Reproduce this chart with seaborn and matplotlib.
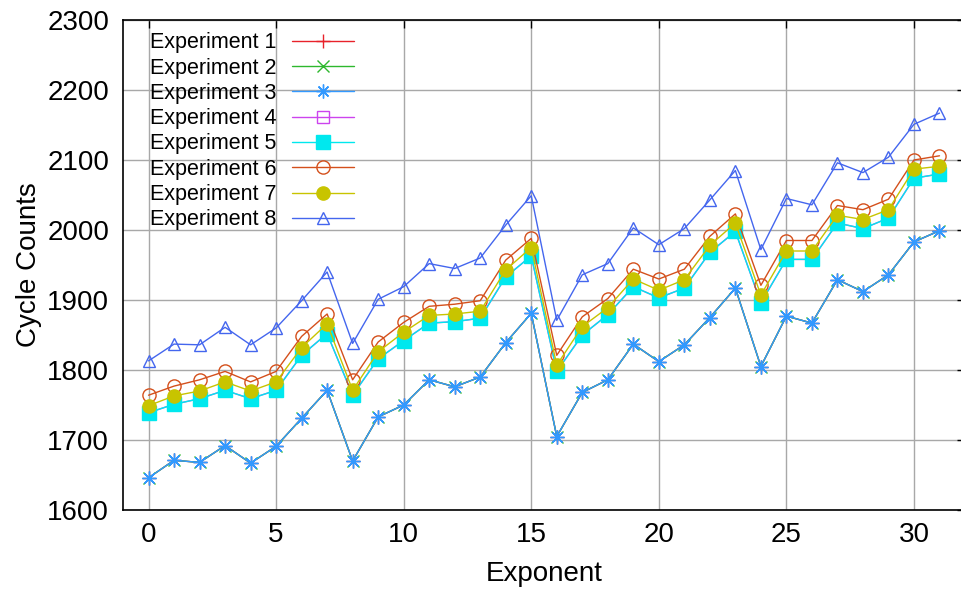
import numpy as np
import matplotlib
matplotlib.use("Agg")
import matplotlib.pyplot as plt
import seaborn as sns

# Values
exponents = list(range(32))

# Experiments 1-3 lie on top of each other (bottom curve)
low_counts = [1646, 1671, 1668, 1692, 1667, 1691, 1731, 1771, 1670, 1733,
              1750, 1786, 1776, 1790, 1839, 1881, 1705, 1768, 1786, 1837,
              1812, 1836, 1875, 1917, 1805, 1877, 1867, 1929, 1912, 1936,
              1983, 1999]
# Experiments 4 and 5 share values (magenta squares hidden under cyan ones)
mid_counts = [1739, 1751, 1759, 1771, 1759, 1771, 1821, 1852, 1764, 1816,
              1842, 1867, 1869, 1874, 1933, 1963, 1798, 1850, 1879, 1919,
              1903, 1917, 1968, 1998, 1896, 1958, 1958, 2010, 2002, 2017,
              2074, 2080]
exp6_counts = [1764, 1777, 1786, 1798, 1783, 1798, 1848, 1880, 1786, 1840,
               1868, 1891, 1894, 1899, 1957, 1988, 1821, 1876, 1902, 1944,
               1930, 1944, 1991, 2023, 1921, 1985, 1985, 2035, 2029, 2044,
               2100, 2106]
exp7_counts = [1749, 1763, 1770, 1783, 1770, 1783, 1832, 1866, 1771, 1826,
               1854, 1878, 1880, 1884, 1943, 1975, 1807, 1862, 1889, 1930,
               1914, 1929, 1978, 2010, 1907, 1970, 1970, 2021, 2015, 2029,
               2087, 2091]
exp8_counts = [1813, 1837, 1836, 1861, 1836, 1860, 1899, 1940, 1838, 1901,
               1919, 1952, 1945, 1960, 2007, 2049, 1871, 1936, 1952, 2003,
               1979, 2002, 2043, 2085, 1972, 2045, 2036, 2096, 2082, 2104,
               2151, 2167]

labels = ["Experiment %d" % i for i in range(1, 9)]
series = [low_counts, low_counts, low_counts, mid_counts, mid_counts,
          exp6_counts, exp7_counts, exp8_counts]
colors = ["#e8222a", "#2eb82e", "#3399ff", "#cc44ee", "#00e8ee",
          "#d4501c", "#c8c400", "#4466ee"]
markers = ["+", "x", (8, 2, 0), "s", "s", "o", "o", "^"]
filled = [True, True, True, False, True, False, True, False]
msizes = [10, 8, 10, 9, 9.5, 9.5, 9.5, 9]

sns.set_theme(style="white")
plt.rcParams["font.family"] = ["Liberation Sans", "DejaVu Sans"]
plt.rcParams["text.color"] = "black"
plt.rcParams["axes.labelcolor"] = "black"

fig = plt.figure(figsize=(9.61, 5.93), dpi=100)
ax = fig.add_axes([123 / 961, 83 / 593, 842 / 961, 490 / 593])

for lab, vals, col, mk, fill, ms in zip(labels, series, colors, markers, filled, msizes):
    sns.lineplot(x=exponents, y=vals, ax=ax, color=col, marker=mk,
                 markersize=ms, markeredgewidth=1.0,
                 markerfacecolor=col if fill else "none",
                 markeredgecolor=col, linewidth=1.0, label=lab)

ax.set_xlim(-1, 32)
ax.set_ylim(1600, 2300)
ax.set_xticks([0, 5, 10, 15, 20, 25, 30])
ax.set_yticks(range(1600, 2301, 100))
ax.grid(True, color="#a8a8a8", linewidth=1.0)
ax.set_axisbelow(True)
for s in ax.spines.values():
    s.set_color("black")
    s.set_linewidth(1.2)
ax.tick_params(direction="in", length=6, width=1, colors="black",
               top=True, right=True, labelsize=20)
ax.tick_params(axis="y", pad=10)
ax.tick_params(axis="x", pad=9)

ax.set_xlabel("Exponent", fontsize=20, labelpad=9)
ax.set_ylabel("Cycle Counts", fontsize=20, labelpad=4)

ax.legend(loc="upper left", bbox_to_anchor=(0.032, 0.975), frameon=False,
          markerfirst=False, fontsize=15.5, handlelength=2.9,
          handletextpad=0.7, labelspacing=0.2, borderpad=0,
          borderaxespad=0, labelcolor="black")

fig.savefig("out.png", dpi=100)
